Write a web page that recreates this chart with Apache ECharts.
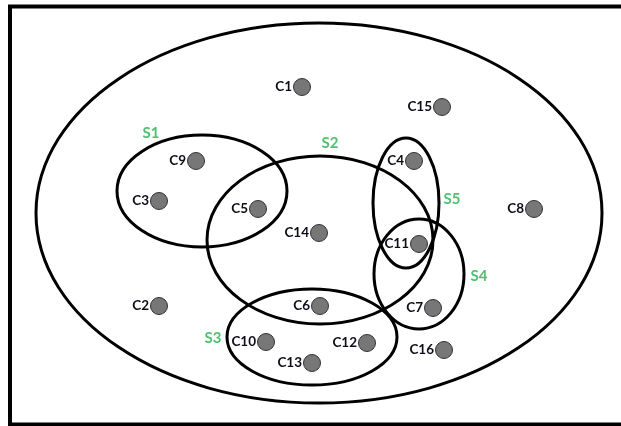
<!DOCTYPE html>
<html>
<head>
<meta charset="utf-8">
<script src="https://cdn.jsdelivr.net/npm/echarts@6/dist/echarts.min.js"></script>
<style>
    html, body { margin: 0; padding: 0; background: #fff; }
    #main { width: 621px; height: 426px; }
</style>
</head>
<body>
<div id="main"></div>
<script>
// node positions (same units as the picture pixels)
var nodeNames = ['C1', 'C2', 'C3', 'C4', 'C5', 'C6', 'C7', 'C8', 'C9', 'C10', 'C11', 'C12', 'C13', 'C14', 'C15', 'C16'];
var nodeX = [302, 159, 159, 414, 258, 320, 433, 534, 196, 266, 419, 367, 312, 319, 442, 444];
var nodeY = [87, 306, 201, 161, 209, 306, 308, 209, 161, 342, 244, 343, 363, 233, 107, 350];

// ellipses: outer universe + sets S1..S5
var setNames = ['U', 'S1', 'S2', 'S3', 'S4', 'S5'];
var setCx = [319, 202, 320, 312, 419, 406];
var setCy = [213, 191, 240, 337, 274, 203];
var setRx = [283, 85, 113, 85, 45, 33];
var setRy = [190, 56, 84, 48, 55, 65];

// set name labels
var labelNames = ['S1', 'S2', 'S3', 'S4', 'S5'];
var labelX = [151, 330, 213, 479, 452];
var labelY = [133, 143, 338, 276, 199];

var dom = document.getElementById('main');
var myChart = echarts.init(dom);

var ellipseData = [];
for (var i = 0; i < setNames.length; i++) {
    ellipseData.push([setCx[i], setCy[i], setRx[i], setRy[i], setNames[i]]);
}
var nodeData = [];
for (var j = 0; j < nodeNames.length; j++) {
    nodeData.push({ name: nodeNames[j], value: [nodeX[j], nodeY[j]] });
}
var labelData = [];
for (var k = 0; k < labelNames.length; k++) {
    labelData.push({ name: labelNames[k], value: [labelX[k], labelY[k]] });
}

var option = {
    animation: false,
    grid: { left: 0, right: 0, top: 0, bottom: 0 },
    xAxis: { type: 'value', min: 0, max: 621, show: false },
    yAxis: { type: 'value', min: 0, max: 426, inverse: true, show: false },
    graphic: [
        {
            type: 'rect',
            shape: { x: 10, y: 6.5, width: 630, height: 418 },
            style: { fill: null, stroke: '#000', lineWidth: 4 },
            z: 10
        }
    ],
    series: [
        {
            type: 'custom',
            data: ellipseData,
            renderItem: function (params, api) {
                var c = api.coord([api.value(0), api.value(1)]);
                var s = api.size([api.value(2), api.value(3)]);
                return {
                    type: 'ellipse',
                    shape: { cx: c[0], cy: c[1], rx: s[0], ry: s[1] },
                    style: { fill: null, stroke: '#000', lineWidth: 3 }
                };
            },
            z: 1
        },
        {
            type: 'scatter',
            data: nodeData,
            symbolSize: 17,
            itemStyle: { color: '#777', borderColor: '#333', borderWidth: 1, opacity: 1 },
            label: {
                show: true,
                position: 'left',
                distance: 1,
                formatter: '{b}',
                color: '#0d0d1a',
                fontFamily: 'Lato',
                fontWeight: 'bold',
                fontSize: 13.5
            },
            z: 3
        },
        {
            type: 'scatter',
            data: labelData,
            symbolSize: 0,
            label: {
                show: true,
                position: 'inside',
                formatter: '{b}',
                color: '#22b14c',
                fontFamily: 'Lato',
                fontWeight: 'bold',
                fontSize: 15
            },
            z: 3
        }
    ]
};

myChart.setOption(option);
</script>
</body>
</html>
